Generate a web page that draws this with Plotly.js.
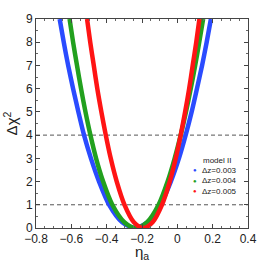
<!DOCTYPE html>
<html>
<head>
<meta charset="utf-8">
<script src="https://cdn.plot.ly/plotly-3.0.1.min.js"></script>
<style>html,body{margin:0;padding:0;background:#fff;}#chart{width:274px;height:261px;}</style>
</head>
<body>
<div id="chart"></div>
<script>
// Δχ² levels at which the curves were read
const chi2Levels = [9, 8, 7, 6, 5, 4, 3, 2, 1, 0.25, 0, 0.25, 1, 2, 3, 4, 5, 6, 7, 8, 9];
// η_a positions (left branch, minimum, right branch)
const etaDz003 = [-0.666, -0.643, -0.618, -0.590, -0.560, -0.528, -0.489, -0.443, -0.386, -0.312, -0.240, -0.168, -0.095, -0.037, 0.009, 0.047, 0.081, 0.111, 0.140, 0.166, 0.190];
const etaDz004 = [-0.610, -0.590, -0.568, -0.545, -0.520, -0.492, -0.460, -0.420, -0.368, -0.300, -0.235, -0.171, -0.106, -0.055, -0.015, 0.019, 0.049, 0.076, 0.101, 0.124, 0.146];
const etaDz005 = [-0.511, -0.493, -0.473, -0.453, -0.430, -0.405, -0.377, -0.343, -0.299, -0.246, -0.193, -0.140, -0.087, -0.043, -0.009, 0.019, 0.044, 0.067, 0.087, 0.107, 0.125];
const seriesNames = ['Δz=0.003', 'Δz=0.004', 'Δz=0.005'];
const seriesColors = ['#2a4bff', '#22a01e', '#ff1414'];
const legendTitle = 'model II';
const xTitle = 'η<sub>a</sub>';
const yTitle = 'Δχ<sup>2</sup>';
const refLevels = [1, 4];
const xTickVals = [-0.8, -0.6, -0.4, -0.2, 0, 0.2, 0.4];
const xTickText = ['−0.8', '−0.6', '−0.4', '−0.2', '0', '0.2', '0.4'];
const yTickVals = [0, 1, 2, 3, 4, 5, 6, 7, 8, 9];

const etaSeries = [etaDz003, etaDz004, etaDz005];
const traces = etaSeries.map((eta, i) => ({
  x: eta, y: chi2Levels, mode: 'lines', type: 'scatter', name: seriesNames[i],
  line: {color: seriesColors[i], width: 4.5, shape: 'spline', smoothing: 0.8},
  showlegend: false, hoverinfo: 'skip'
}));

const font = 'Liberation Sans, Arial, sans-serif';
const axisCommon = {
  showline: true, mirror: 'ticks', linecolor: '#444', linewidth: 1,
  ticks: 'inside', ticklen: 4, tickcolor: '#444', tickwidth: 1,
  showgrid: false, zeroline: false,
  tickfont: {family: font, size: 12, color: '#222'},
  minor: {ticks: 'inside', ticklen: 2, tickcolor: '#666', nticks: 5, showgrid: false}
};

// x-axis title and manual legend (dots + labels) in paper coordinates
const annotations = [{
  xref: 'paper', yref: 'paper', x: 0.5, y: -0.115, xanchor: 'center', yanchor: 'middle',
  text: xTitle, showarrow: false, font: {family: font, size: 15, color: '#222'}
}, {
  xref: 'paper', yref: 'paper', x: 0.855, y: 0.325, xanchor: 'center', yanchor: 'middle',
  text: legendTitle, showarrow: false, font: {family: font, size: 8, color: '#222'}
}];
const rowY = [0.277, 0.226, 0.176];
seriesNames.forEach((name, i) => {
  annotations.push({
    xref: 'paper', yref: 'paper', x: 0.75, y: rowY[i], xanchor: 'center', yanchor: 'middle',
    text: '●', showarrow: false, font: {family: font, size: 6, color: seriesColors[i]}
  });
  annotations.push({
    xref: 'paper', yref: 'paper', x: 0.775, y: rowY[i], xanchor: 'left', yanchor: 'middle',
    text: name, showarrow: false, font: {family: font, size: 8, color: '#222'}
  });
});

const layout = {
  width: 274, height: 261,
  margin: {l: 36, r: 26, t: 19, b: 33},
  paper_bgcolor: '#fff', plot_bgcolor: '#fff',
  xaxis: Object.assign({}, axisCommon, {
    range: [-0.8, 0.4], tickvals: xTickVals, ticktext: xTickText
  }),
  yaxis: Object.assign({}, axisCommon, {
    range: [0, 9], tickvals: yTickVals,
    title: {text: yTitle, font: {family: font, size: 15, color: '#222'}, standoff: 4}
  }),
  shapes: refLevels.map(v => ({
    type: 'line', xref: 'paper', x0: 0, x1: 1, yref: 'y', y0: v, y1: v,
    line: {color: '#555', width: 1, dash: '4px,3px'}, layer: 'below'
  })),
  annotations: annotations,
  showlegend: false
};

Plotly.newPlot('chart', traces, layout, {displayModeBar: false, staticPlot: true});
</script>
</body>
</html>
